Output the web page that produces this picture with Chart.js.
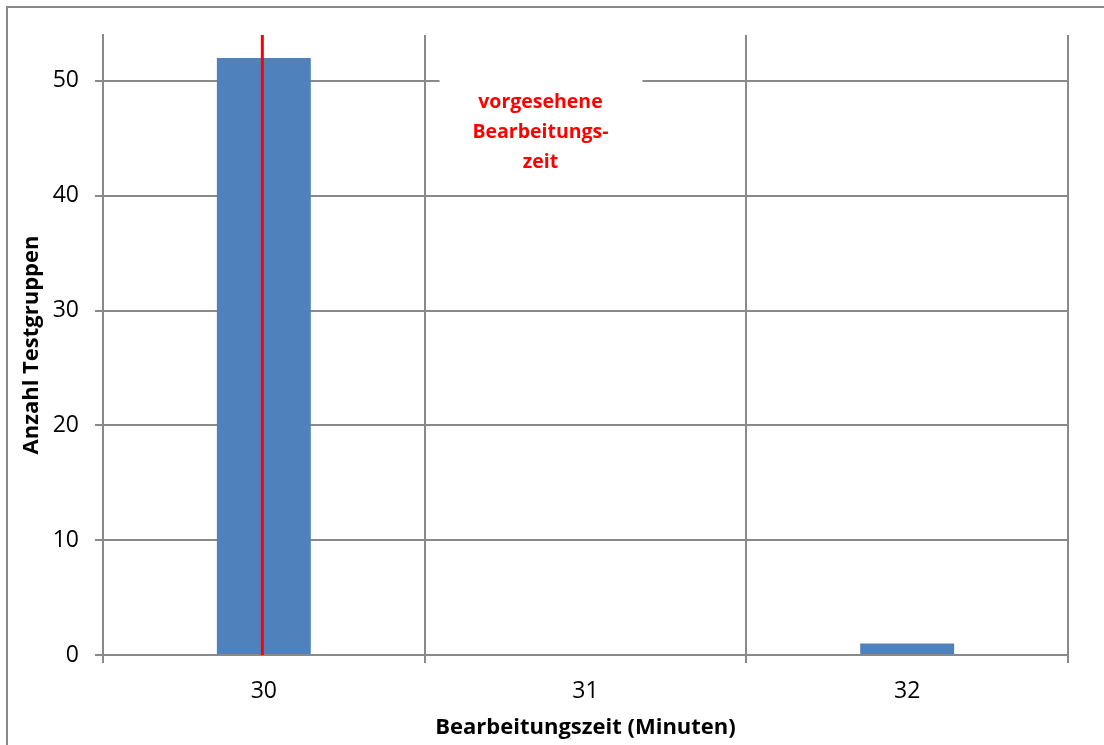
<!DOCTYPE html>
<html lang="de">
<head>
<meta charset="utf-8">
<title>Bearbeitungszeit</title>
<script src="https://cdn.jsdelivr.net/npm/chart.js@4.4.1/dist/chart.umd.min.js"></script>
<style>
    html, body { margin: 0; padding: 0; background: #fff; overflow: hidden; }
    #chart { display: block; }
</style>
</head>
<body>
<canvas id="chart" width="1104" height="745"></canvas>
<script>
// Data
const minutes = ['30', '31', '32'];
const groupCounts = [52, 0, 1];
const yTicks = [0, 10, 20, 30, 40, 50];
const yMax = 54;
const plannedTime = '30';
const noteLines = ['vorgesehene', 'Bearbeitungs-', 'zeit'];
const notePosition = [0.86, 48.1]; // category index, value of first line

const gridGrey = '#898989';
const fontFamily = '"Open Sans", Lato, sans-serif';

// Outer frame, planned-time line and the red note
const overlayPlugin = {
    id: 'overlay',
    beforeDraw(chart) {
        const ctx = chart.ctx;
        ctx.save();
        ctx.strokeStyle = gridGrey;
        ctx.lineWidth = 2;
        ctx.strokeRect(7, 7, chart.width + 20, chart.height + 20);
        ctx.restore();
    },
    afterDatasetsDraw(chart) {
        const { ctx, chartArea, scales: { x, y } } = chart;
        ctx.save();

        // red line at the planned time
        const lineX = x.getPixelForValue(minutes.indexOf(plannedTime)) - 1.5;
        ctx.strokeStyle = '#ff0000';
        ctx.lineWidth = 3;
        ctx.beginPath();
        ctx.moveTo(lineX, chartArea.top);
        ctx.lineTo(lineX, chartArea.bottom);
        ctx.stroke();

        // note with white background
        ctx.font = 'bold 19.5px ' + fontFamily;
        const lineHeight = 30;
        const cx = x.getPixelForValue(notePosition[0]);
        const firstY = y.getPixelForValue(notePosition[1]);
        ctx.fillStyle = '#fff';
        ctx.fillRect(cx - 101, firstY - 40, 203, lineHeight * noteLines.length + 20);
        ctx.fillStyle = '#ff0000';
        ctx.textAlign = 'center';
        ctx.textBaseline = 'middle';
        noteLines.forEach((t, i) => ctx.fillText(t, cx, firstY + i * lineHeight));
        ctx.restore();
    }
};

new Chart(document.getElementById('chart'), {
    type: 'bar',
    data: {
        labels: minutes,
        datasets: [{
            data: groupCounts,
            backgroundColor: '#4f81bd',
            borderWidth: 0,
            categoryPercentage: 1,
            barPercentage: 0.292
        }]
    },
    options: {
        responsive: false,
        animation: false,
        devicePixelRatio: 1,
        layout: { padding: { top: 35, right: 36, left: 0, bottom: 0 } },
        plugins: { legend: { display: false }, tooltip: { enabled: false } },
        scales: {
            x: {
                grid: { color: gridGrey, lineWidth: 2, tickLength: 8, offset: true },
                border: { color: gridGrey, width: 2 },
                ticks: { font: { size: 23, family: fontFamily }, color: '#000', padding: 15, maxRotation: 0 },
                title: {
                    display: true,
                    text: 'Bearbeitungszeit (Minuten)',
                    color: '#000',
                    font: { size: 22, weight: 'bold', family: fontFamily },
                    padding: { top: 0, bottom: 4 }
                },
                afterFit: s => { s.height = 90; }
            },
            y: {
                min: 0,
                max: yMax,
                grid: { color: gridGrey, lineWidth: 2, tickLength: 8 },
                border: { color: gridGrey, width: 2 },
                ticks: { font: { size: 23, family: fontFamily }, color: '#000', padding: 16 },
                afterBuildTicks: s => { s.ticks = yTicks.map(v => ({ value: v })); },
                title: {
                    display: true,
                    text: 'Anzahl Testgruppen',
                    color: '#000',
                    font: { size: 22, weight: 'bold', family: fontFamily },
                    padding: { top: 19, bottom: 0 }
                },
                afterFit: s => { s.width = 103; }
            }
        }
    },
    plugins: [overlayPlugin]
});
</script>
</body>
</html>
